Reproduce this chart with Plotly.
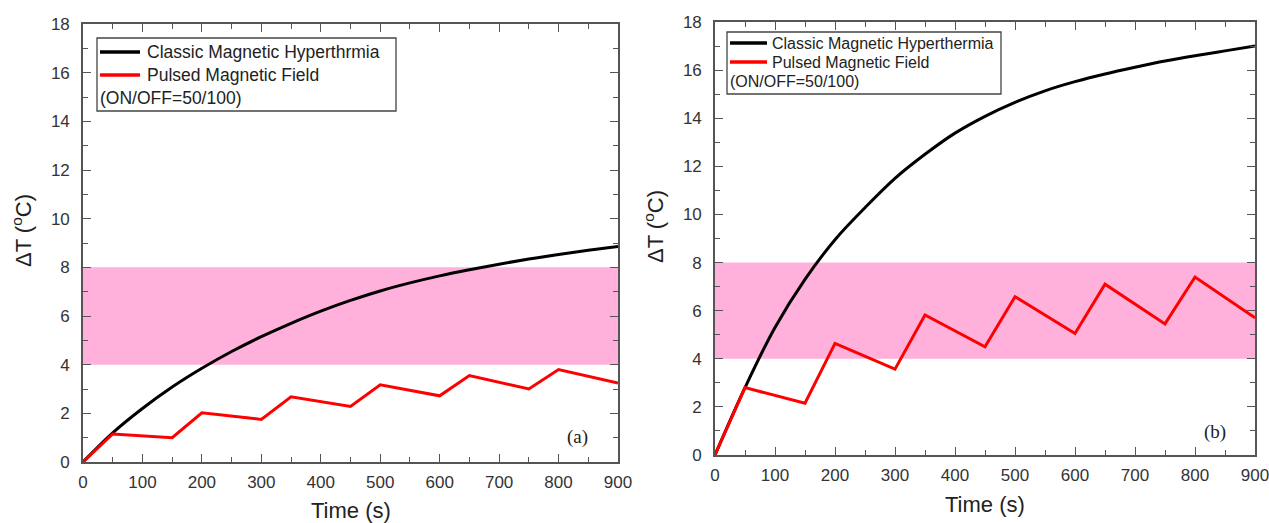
import plotly.graph_objects as go

W, H = 1269, 523

# ---------------- data ----------------
time_s = [0, 50, 100, 150, 200, 250, 300, 350, 400, 450, 500, 550, 600, 650, 700, 750, 800, 850, 900]
classic_a = [0, 1.2, 2.2, 3.08, 3.85, 4.54, 5.15, 5.7, 6.2, 6.64, 7.03, 7.36, 7.65, 7.9, 8.13, 8.34, 8.53, 8.7, 8.86]
classic_b = [0, 2.8, 5.3, 7.3, 8.95, 10.28, 11.5, 12.5, 13.38, 14.08, 14.66, 15.14, 15.52, 15.84, 16.12, 16.38, 16.6, 16.8, 17.0]

pulse_t = [0, 50, 150, 200, 300, 350, 450, 500, 600, 650, 750, 800, 900]
pulsed_a = [0, 1.15, 1.0, 2.02, 1.75, 2.68, 2.28, 3.17, 2.72, 3.55, 3.0, 3.8, 3.25]
pulsed_b = [0, 2.8, 2.15, 4.64, 3.57, 5.82, 4.5, 6.58, 5.05, 7.1, 5.45, 7.4, 5.7]

band_low, band_high = 4, 8
x_range = [0, 900]
y_range = [0, 18]

legend_a = ["Classic Magnetic Hyperthrmia", "Pulsed Magnetic Field", "(ON/OFF=50/100)"]
legend_b = ["Classic Magnetic Hyperthermia", "Pulsed Magnetic Field", "(ON/OFF=50/100)"]
panel_labels = ["(a)", "(b)"]
x_title = "Time (s)"
y_title = "ΔT (<sup>o</sup>C)"

# ---------------- helpers ----------------
def px(x):
    return x / W

def py(y):
    return 1 - y / H

BLACK = "#000000"
RED = "#ff0000"
PINK = "#ffb1db"
AXIS = "#555555"
TXT = "#333333"
SANS = "Liberation Sans, Arial, sans-serif"
SERIF = "Liberation Serif, Times New Roman, serif"

fig = go.Figure()

fig.add_trace(go.Scatter(x=time_s, y=classic_a, mode="lines", line=dict(color=BLACK, width=3, shape="spline", smoothing=1.0),
                         xaxis="x", yaxis="y", showlegend=False))
fig.add_trace(go.Scatter(x=pulse_t, y=pulsed_a, mode="lines", line=dict(color=RED, width=3),
                         xaxis="x", yaxis="y", showlegend=False))
fig.add_trace(go.Scatter(x=time_s, y=classic_b, mode="lines", line=dict(color=BLACK, width=3, shape="spline", smoothing=1.0),
                         xaxis="x2", yaxis="y2", showlegend=False))
fig.add_trace(go.Scatter(x=pulse_t, y=pulsed_b, mode="lines", line=dict(color=RED, width=3),
                         xaxis="x2", yaxis="y2", showlegend=False))

# pink target bands
for xr, yr in (("x", "y"), ("x2", "y2")):
    fig.add_shape(type="rect", xref=xr, yref=yr, x0=x_range[0], x1=x_range[1],
                  y0=band_low, y1=band_high, fillcolor=PINK, line=dict(width=0), layer="below")

def xaxis(domain, anchor):
    return dict(domain=domain, anchor=anchor, range=x_range, dtick=100, tick0=0,
                ticks="inside", ticklen=8, tickwidth=1.3, tickcolor=AXIS,
                minor=dict(dtick=50, tick0=0, ticks="inside", ticklen=5, tickwidth=1.3, tickcolor=AXIS, showgrid=False),
                showline=True, linecolor=AXIS, linewidth=1.6, mirror="ticks",
                showgrid=False, zeroline=False, tickfont=dict(family=SANS, size=17, color=TXT),
                ticklabelstandoff=4, ticklabeloverflow="allow", automargin=False, fixedrange=True)

def yaxis(domain, anchor):
    return dict(domain=domain, anchor=anchor, range=y_range, dtick=2, tick0=0,
                ticks="inside", ticklen=8, tickwidth=1.3, tickcolor=AXIS,
                minor=dict(dtick=1, tick0=0, ticks="inside", ticklen=5, tickwidth=1.3, tickcolor=AXIS, showgrid=False),
                showline=True, linecolor=AXIS, linewidth=1.6, mirror="ticks",
                showgrid=False, zeroline=False, tickfont=dict(family=SANS, size=17, color=TXT),
                ticklabelstandoff=8, ticklabeloverflow="allow", automargin=False, fixedrange=True)

# plot boxes in pixels
A = dict(l=83, r=618, t=24, b=462)
B = dict(l=715, r=1255, t=22, b=455)

fig.update_layout(
    width=W, height=H, margin=dict(l=0, r=0, t=0, b=0, autoexpand=False),
    paper_bgcolor="white", plot_bgcolor="white", showlegend=False,
    xaxis=xaxis([px(A["l"]), px(A["r"])], "y"),
    yaxis=yaxis([py(A["b"]), py(A["t"])], "x"),
    xaxis2=xaxis([px(B["l"]), px(B["r"])], "y2"),
    yaxis2=yaxis([py(B["b"]), py(B["t"])], "x2"),
)

annotations = []

def text(x, y, s, size, family=SANS, color="#222222", xanchor="center", yanchor="middle", angle=0):
    annotations.append(dict(x=px(x), y=py(y), xref="paper", yref="paper", text=s, showarrow=False,
                            xanchor=xanchor, yanchor=yanchor, textangle=angle,
                            font=dict(family=family, size=size, color=color)))

# axis titles
text((A["l"] + A["r"]) / 2, 510, x_title, 22)
text((B["l"] + B["r"]) / 2, 504, x_title, 22)
text(22, 231, y_title, 22, angle=-90)
text(654, 227, y_title, 22, angle=-90)

# panel labels
text(577, 437, panel_labels[0], 19, family=SERIF)
text(1215, 432, panel_labels[1], 19, family=SERIF)

# manual legends
def legend(box, line_x, ys, text_x, third_x, labels, size):
    x0, x1, y0, y1 = box
    fig.add_shape(type="rect", xref="paper", yref="paper", x0=px(x0), x1=px(x1), y0=py(y1), y1=py(y0),
                  line=dict(color="#444444", width=1.3), fillcolor="white", layer="above")
    for yy, col in zip(ys[:2], (BLACK, RED)):
        fig.add_shape(type="line", xref="paper", yref="paper", x0=px(line_x[0]), x1=px(line_x[1]),
                      y0=py(yy), y1=py(yy), line=dict(color=col, width=3.5), layer="above")
    text(text_x, ys[0], labels[0], size, color="#222222", xanchor="left")
    text(text_x, ys[1], labels[1], size, color="#222222", xanchor="left")
    text(third_x, ys[2], labels[2], size, color="#222222", xanchor="left")

legend((97, 396, 38, 111), (100, 140), (52, 75, 98), 145, 98, legend_a, 17.5)
legend((727, 1001, 32, 94), (730, 767), (43, 62, 82), 770, 728, legend_b, 16)

fig.update_layout(annotations=annotations)

fig.write_html("out.html", config={"displayModeBar": False},
               post_script="document.body.style.margin='0';document.body.style.overflow='hidden';")
